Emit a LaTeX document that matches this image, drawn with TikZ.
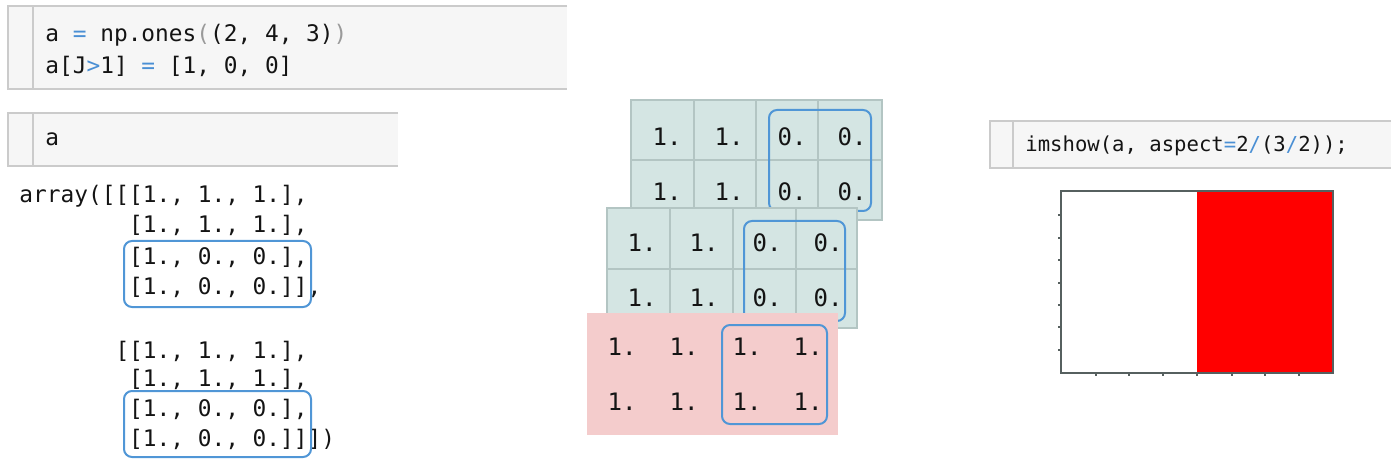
\documentclass[tikz,border=0pt]{standalone}
\usepackage{fontspec}
\setmonofont{DejaVu Sans Mono}
\definecolor{opblue}{HTML}{4A8FD4}
\definecolor{cellbg}{HTML}{F6F6F6}
\definecolor{cellln}{HTML}{CBCBCB}
\definecolor{panelbg}{HTML}{D4E5E3}
\definecolor{gridln}{HTML}{B3C5C3}
\definecolor{pinkbg}{HTML}{F4CCCC}
\definecolor{hlblue}{HTML}{5096D6}
\definecolor{matchgray}{HTML}{9A9A9A}
\definecolor{axln}{HTML}{56605F}
\definecolor{imred}{HTML}{FF0000}
\begin{document}
\begin{tikzpicture}[x=0.5pt,y=-0.5pt,
  code/.style={font=\fontsize{11.4}{13}\ttfamily, inner sep=0pt, anchor=base west, text=black!92},
  smallcode/.style={font=\fontsize{10.3}{12}\ttfamily, inner sep=0pt, anchor=base west, text=black!92},
  val/.style={font=\fontsize{12}{14}\ttfamily, inner sep=0pt, anchor=center, text=black!92},
  hlbox/.style={draw=hlblue, line width=1pt, rounded corners=4pt},
  cellfill/.style={fill=cellbg},
  celledge/.style={draw=cellln, line width=0.6pt},
  gridthin/.style={draw=gridln, line width=0.6pt},
  gridthick/.style={draw=gridln, line width=1pt}]
\useasboundingbox (0,0) rectangle (1400,464);

% ---------- input cell 1 ----------
\fill[cellfill] (8,6) rectangle (567,89);
\draw[celledge] (567,6) -- (8,6) -- (8,89) -- (567,89);
\draw[celledge] (33,6) -- (33,89);
\node[code] (in1a) at (45,42) {a {\color{opblue}=} np.ones{\color{matchgray}(}(2, 4, 3){\color{matchgray})}};
\node[code] (in1b) at (45,74) {a[J{\color{opblue}>}1] {\color{opblue}=} [1, 0, 0]};

% ---------- input cell 2 ----------
\fill[cellfill] (8,113) rectangle (398,166);
\draw[celledge] (398,113) -- (8,113) -- (8,166) -- (398,166);
\draw[celledge] (33,113) -- (33,166);
\node[code] (in2) at (45,146) {a};

% ---------- output text ----------
\node[code] (o1) at (19,203) {array([[[1., 1., 1.],};
\node[code] (o2) at (128.8,233) {[1., 1., 1.],};
\node[code] (o3) at (128.8,264) {[1., 0., 0.],};
\node[code] (o4) at (128.8,294) {[1., 0., 0.]],};
\node[code] (o5) at (115.1,358) {[[1., 1., 1.],};
\node[code] (o6) at (128.8,386) {[1., 1., 1.],};
\node[code] (o7) at (128.8,416) {[1., 0., 0.],};
\node[code] (o8) at (128.8,446) {[1., 0., 0.]]])};
\draw[hlbox] (124,241) rectangle (311,307);
\draw[hlbox] (124,391) rectangle (311,457);

% ---------- back panel ----------
\fill[panelbg] (631,100) rectangle (882,220);
\draw[gridthin] (631,100) rectangle (882,220);
\draw[gridthin] (694,100) -- (694,220) (756,100) -- (756,220) (818,100) -- (818,220) (631,160) -- (882,160);
\node[val] (b11) at (667,137) {1.};
\node[val] (b12) at (729,137) {1.};
\node[val] (b13) at (792,137) {0.};
\node[val] (b14) at (852,137) {0.};
\node[val] (b21) at (667,192) {1.};
\node[val] (b22) at (729,192) {1.};
\node[val] (b23) at (792,192) {0.};
\node[val] (b24) at (852,192) {0.};
\draw[hlbox] (769,110) rectangle (871,211);

% ---------- middle panel ----------
\fill[panelbg] (607,208) rectangle (857,328);
\draw[gridthick] (607,208) rectangle (857,328);
\draw[gridthick] (670,208) -- (670,328) (733,208) -- (733,328) (796,208) -- (796,328) (607,269) -- (857,269);
\node[val] (m11) at (642,243) {1.};
\node[val] (m12) at (704,243) {1.};
\node[val] (m13) at (767,243) {0.};
\node[val] (m14) at (828,243) {0.};
\node[val] (m21) at (642,298) {1.};
\node[val] (m22) at (704,298) {1.};
\node[val] (m23) at (767,298) {0.};
\node[val] (m24) at (828,298) {0.};
\draw[hlbox] (744,221) rectangle (845,321);

% ---------- front panel ----------
\fill[pinkbg] (587,313) rectangle (838,435);
\node[val] (f11) at (622,347) {1.};
\node[val] (f12) at (684,347) {1.};
\node[val] (f13) at (747,347) {1.};
\node[val] (f14) at (808,347) {1.};
\node[val] (f21) at (622,402) {1.};
\node[val] (f22) at (684,402) {1.};
\node[val] (f23) at (747,402) {1.};
\node[val] (f24) at (808,402) {1.};
\draw[hlbox] (722,325) rectangle (827,424);

% ---------- imshow cell ----------
\fill[cellfill] (990,121) rectangle (1391,168);
\draw[celledge] (1391,121) -- (990,121) -- (990,168) -- (1391,168);
\draw[celledge] (1013,121) -- (1013,168);
\node[smallcode] (in3) at (1025,152) {imshow(a, aspect{\color{opblue}=}2{\color{opblue}/}(3{\color{opblue}/}2));};

% ---------- image ----------
\fill[white] (1061,191) rectangle (1197,373);
\fill[imred] (1197,191) rectangle (1333,373);
\draw[axln, line width=0.7pt] (1061,191) rectangle (1333,373);
\foreach \tx in {1096,1129,1163,1197,1232,1265,1299}
  \draw[axln, line width=0.6pt] (\tx,373) -- (\tx,376);
\foreach \ty in {215,238,260,283,305,327,350}
  \draw[axln, line width=0.6pt] (1061,\ty) -- (1058,\ty);
\end{tikzpicture}
\end{document}
